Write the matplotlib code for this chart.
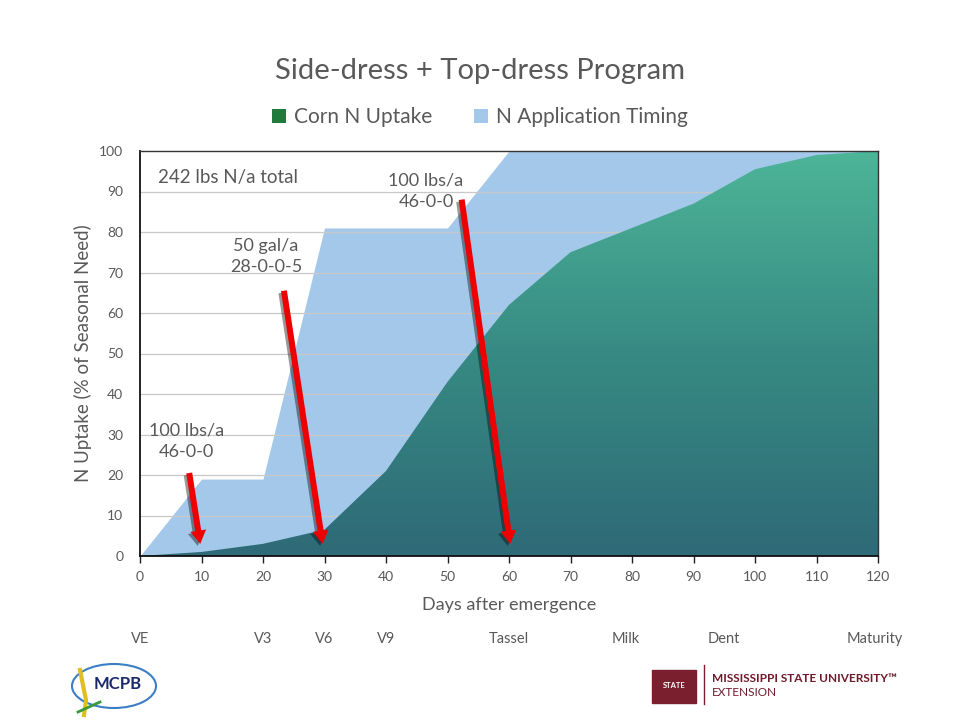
import matplotlib
matplotlib.use("Agg")
import matplotlib.pyplot as plt
import matplotlib.patheffects as pe
from matplotlib.patches import Patch, Ellipse, FancyArrowPatch, Rectangle
from matplotlib.colors import LinearSegmentedColormap
from matplotlib.transforms import blended_transform_factory
import numpy as np

plt.rcParams['font.family'] = ['Lato', 'DejaVu Sans']

# ---------------- data ----------------
days = [0, 10, 20, 30, 40, 50, 60, 70, 80, 90, 100, 110, 120]
corn_uptake = [0, 1, 3, 6.5, 21, 43, 62, 75, 81, 87, 95.5, 99, 100]

app_days = [0, 10, 20, 30, 50, 60, 120]
app_timing = [0, 19, 19, 81, 81, 100, 100]

stage_names = ["VE", "V3", "V6", "V9", "Tassel", "Milk", "Dent", "Maturity"]
stage_days = [0, 20, 30, 40, 60, 79, 95, 119.5]

arrow_starts = [(8.0, 20.5), (23.4, 65.5), (52.3, 88)]
arrow_ends = [(9.8, 3.0), (29.7, 3.0), (60.2, 3.0)]
arrow_texts = ["100 lbs/a\n46-0-0", "50 gal/a\n28-0-0-5", "100 lbs/a\n46-0-0"]
arrow_text_pos = [(7.5, 28.3), (20.5, 74), (46.5, 90)]

total_note = "242 lbs N/a total"
title = "Side-dress + Top-dress Program"

# ---------------- figure ----------------
fig = plt.figure(figsize=(9.6, 7.2), dpi=100)
ax = fig.add_axes([140/960, 1-556/720, (878-140)/960, (556-151)/720])

txt = '#595959'

ax.fill_between(app_days, app_timing, 0, color='#a4c8ea', lw=0, zorder=1)
for yv in range(10, 100, 10):
    ax.axhline(yv, color='#c8c8c8', lw=0.9, zorder=1.5)

poly = ax.fill_between(days, corn_uptake, 0, color='none', lw=0, zorder=2)
cmap = LinearSegmentedColormap.from_list('g', ['#2e6a77', '#378a83', '#4db598'])
grad = np.linspace(0, 1, 256).reshape(-1, 1)
im = ax.imshow(grad, cmap=cmap, origin='lower', extent=[0, 120, 0, 100],
               aspect='auto', zorder=2, interpolation='bilinear')
im.set_clip_path(poly.get_paths()[0], transform=ax.transData)

ax.set_xlim(0, 120)
ax.set_ylim(0, 100)
ax.set_xticks(range(0, 121, 10))
ax.set_yticks(range(0, 101, 10))
ax.tick_params(axis='x', direction='out', length=5, width=1, color='#222222',
               labelsize=10, labelcolor=txt, pad=6)
ax.tick_params(axis='y', length=0, labelsize=10, labelcolor=txt, pad=12)
for s in ['left', 'bottom']:
    ax.spines[s].set_color('#111111')
    ax.spines[s].set_linewidth(1.3)
for s in ['top', 'right']:
    ax.spines[s].set_color('#333333')
    ax.spines[s].set_linewidth(1.0)
for s in ax.spines.values():
    s.set_zorder(5)

ax.set_xlabel("Days after emergence", fontsize=13, color=txt, labelpad=10)
ax.set_ylabel("N Uptake (% of Seasonal Need)", fontsize=13.5, color=txt, labelpad=5)

# arrows
for (x0, y0), (x1, y1) in zip(arrow_starts, arrow_ends):
    arr = FancyArrowPatch((x0, y0), (x1, y1),
                          arrowstyle='simple,head_width=0.95,head_length=0.8,tail_width=0.36',
                          mutation_scale=12, color='#ee0000', lw=0, zorder=6,
                          shrinkA=0, shrinkB=0)
    arr.set_path_effects([pe.SimplePatchShadow(offset=(-1.8, -1.5), shadow_rgbFace='black', alpha=0.4),
                          pe.Normal()])
    ax.add_patch(arr)

for (tx, ty), t in zip(arrow_text_pos, arrow_texts):
    ax.text(tx, ty, t, ha='center', va='center', fontsize=13, color=txt,
            linespacing=1.4, zorder=7)

ax.text(3.0, 93.5, total_note, ha='left', va='center', fontsize=13.5, color=txt, zorder=7)

# title & legend
fig.text(0.5, 1-71/720, title, ha='center', va='center', fontsize=21, color=txt)
handles = [Patch(facecolor='#1f7a3c', edgecolor='none', label='Corn N Uptake'),
           Patch(facecolor='#a4c8ea', edgecolor='none', label='N Application Timing')]
leg = fig.legend(handles=handles, loc='center', bbox_to_anchor=(0.5, 1-117/720),
                 ncol=2, frameon=False, fontsize=15, handlelength=0.65,
                 handleheight=0.65, handletextpad=0.4, columnspacing=2.0)
for t in leg.get_texts():
    t.set_color(txt)

# growth stages
tr = blended_transform_factory(ax.transData, fig.transFigure)
for name, d in zip(stage_names, stage_days):
    fig.text(d, 1-639/720, name, transform=tr, ha='center', va='center',
             fontsize=10.5, color=txt)

# logos (approximations)
lax = fig.add_axes([0, 0, 1, 1], zorder=-1)
lax.set_xlim(0, 960)
lax.set_ylim(720, 0)
lax.axis('off')
lax.add_patch(Ellipse((114, 686), 84, 44, fill=False, ec='#3a7fc4', lw=1.5))
lax.text(118, 684, "MCPB", ha='center', va='center', fontsize=12, fontweight='bold', color='#1b2a6b')
lax.plot([80, 86, 84], [670, 700, 715], color='#e0c020', lw=3)
lax.plot([78, 100], [712, 702], color='#3a9a3a', lw=2)
lax.add_patch(Rectangle((652, 670), 44, 33, color='#7a1f2e'))
lax.text(674, 686, "STATE", ha='center', va='center', fontsize=5.5, color='white', fontweight='bold')
lax.plot([704, 704], [665, 704], color='#7a1f2e', lw=1)
lax.text(712, 679, "MISSISSIPPI STATE UNIVERSITY\u2122", ha='left', va='center',
         fontsize=8.5, fontweight='bold', color='#6e1a2a')
lax.text(712, 692, "EXTENSION", ha='left', va='center', fontsize=8.5, color='#6e1a2a')

fig.savefig("out.png", dpi=100, facecolor='white')
